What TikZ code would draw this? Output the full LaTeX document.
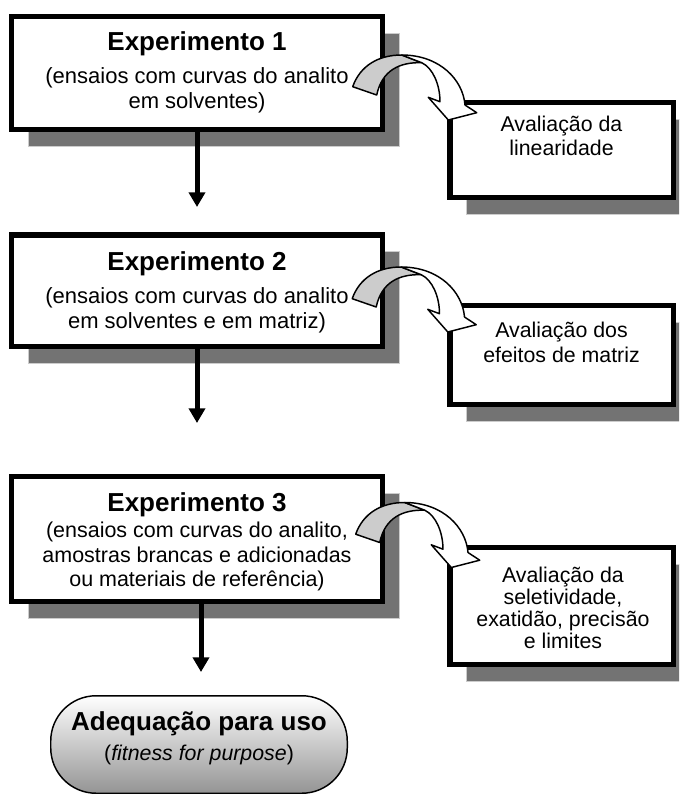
\documentclass[tikz,border=0pt]{standalone}
\usepackage{fontspec}
\setmainfont{Liberation Sans}
\usetikzlibrary{arrows.meta,shadows}
\newcommand\ttlfont{\fontsize{19.5}{23}\selectfont\bfseries}
\begin{document}
\begin{tikzpicture}[x=0.75pt,y=-0.75pt,
  boxshadow/.style={drop shadow={shadow xshift=12.5pt, shadow yshift=-12.5pt, fill=black!55, draw=black!20, line width=0.6pt, opacity=1}},
  lbox/.style={draw=black, line width=4.1pt, fill=white, inner sep=0pt, boxshadow, minimum width=277.9pt},
  rbox/.style={draw=black, line width=4.1pt, fill=white, inner sep=0pt, boxshadow, minimum width=167.6pt},
  txt/.style={anchor=north, align=center, inner sep=0pt},
  darrow/.style={line width=3.75pt, -{Triangle[width=12pt,length=11pt]}},
  endbox/.style={draw=black, line width=1.1pt, rounded corners=34pt, top color=white, bottom color=black!42, minimum width=222.4pt, minimum height=73.1pt, inner sep=0pt},
  bendarrow/.pic={
    \filldraw[fill=black!20, draw=black, line width=1.1pt, line join=round]
      (352.7,86.7) .. controls (360,66) and (378,55) .. (401.7,55)
      -- (421.7,62.7) .. controls (400,62) and (382,70) .. (376.7,95) -- cycle;
    \filldraw[fill=white, draw=black, line width=1.1pt, line join=round]
      (401.7,55) .. controls (440,55) and (463,80) .. (465,105)
      -- (476.7,112.7) -- (448.3,120) -- (428.3,97.3) -- (440,101.7)
      .. controls (440,85) and (433,68) .. (421.7,62.7) -- cycle;
  }
]
\clip (0,0) rectangle (679,796);
\useasboundingbox (0,0) rectangle (679,796);

% boxes
\node[lbox, minimum height=84.4pt] (e1) at (197,73) {};
\node[lbox, minimum height=83.6pt] (e2) at (197,290.5) {};
\node[lbox, minimum height=93.4pt] (e3) at (197,539) {};
\node[rbox, minimum height=70.9pt] (r1) at (561.5,150) {};
\node[rbox, minimum height=73.9pt] (r2) at (561.5,355) {};
\node[rbox, minimum height=87.4pt] (r3) at (561.5,606) {};
\node[endbox] (fit) at (199,744.5) {};

% curved arrows
\pic (c1) at (0,0) {bendarrow};
\pic (c2) at (-0.5,212) {bendarrow};
\pic (c3) at (3,447.5) {bendarrow};

% down arrows
\coordinate (a1) at (197,207);
\coordinate (a2) at (197,423);
\coordinate (a3) at (201,672);
\draw[darrow] (e1.south) -- (a1);
\draw[darrow] (e2.south) -- (a2);
\draw[darrow] (e3.south -| a3) -- (a3);

% texts
\node[txt, font=\fontsize{16.5}{18.75}\selectfont] (e1t) at (197,31.4)
  {{\ttlfont Experimento 1}\\[6pt](ensaios com curvas do analito\\em solventes)};
\node[txt, font=\fontsize{16.5}{18.75}\selectfont] (e2t) at (197,251.4)
  {{\ttlfont Experimento 2}\\[6pt](ensaios com curvas do analito\\em solventes e em matriz)};
\node[txt, font=\fontsize{16.1}{18.5}\selectfont] (e3t) at (197,492.4)
  {{\ttlfont Experimento 3}\\[1pt](ensaios com curvas do analito,\\amostras brancas e adicionadas\\ou materiais de referência)};
\node[txt, font=\fontsize{16}{18.4}\selectfont] (r1t) at (561.5,115.7)
  {Avaliação da\\linearidade};
\node[txt, font=\fontsize{16}{18.4}\selectfont] (r2t) at (561.5,322)
  {Avaliação dos\\efeitos de matriz};
\node[txt, font=\fontsize{16}{16.5}\selectfont] (r3t) at (563,566.4)
  {Avaliação da\\seletividade,\\exatidão, precisão\\e limites};
\node[txt, font=\fontsize{16}{18.5}\selectfont] (fitt) at (199,711.4)
  {{\ttlfont Adequação para uso}\\[4pt]({\itshape fitness for purpose})};
\end{tikzpicture}
\end{document}
